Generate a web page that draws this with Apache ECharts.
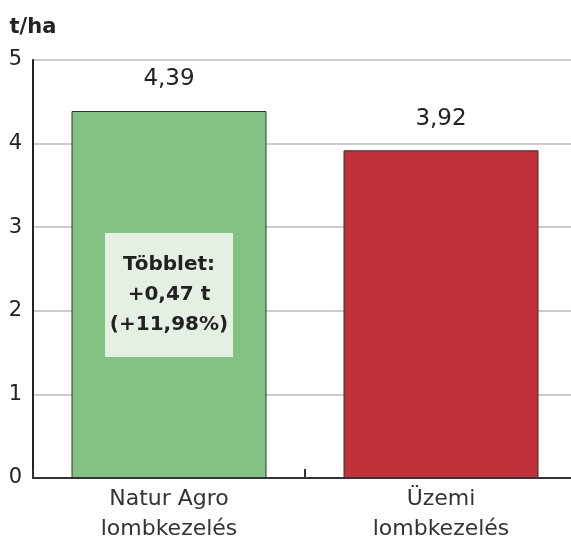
<!DOCTYPE html>
<html>
<head>
<meta charset="utf-8">
<script src="https://cdn.jsdelivr.net/npm/echarts@6/dist/echarts.min.js"></script>
<style>
  html, body { margin: 0; padding: 0; background: #fff; overflow: hidden; }
  /* slightly wider than the window so the axis runs off the right edge */
  #chart { width: 577px; height: 545px; }
</style>
</head>
<body>
<div id="chart"></div>
<script>
// adatok
var categories = ['Natur Agro\nlombkezelés', 'Üzemi\nlombkezelés'];
var values = [4.39, 3.92];
var barColors = ['#82c282', '#c0313a'];
var yTicks = { min: 0, max: 5, interval: 1 };
var unitLabel = 't/ha';
var noteText = 'Többlet:\n+0,47 t\n(+11,98%)';

var fontName = 'DejaVu Sans';

var myChart = echarts.init(document.getElementById('chart'));

var option = {
    animation: false,
    grid: {
        left: 33,
        right: 0,
        top: 60,
        bottom: 67,
        containLabel: false
    },
    xAxis: {
        type: 'category',
        data: categories,
        axisLine: { lineStyle: { color: '#333', width: 2 } },
        axisTick: {
            show: true,
            inside: true,
            length: 9,
            lineStyle: { color: '#333', width: 2 }
        },
        axisLabel: {
            fontFamily: fontName,
            fontSize: 22,
            color: '#333',
            lineHeight: 30,
            margin: 6
        },
        splitLine: { show: false }
    },
    yAxis: {
        type: 'value',
        min: yTicks.min,
        max: yTicks.max,
        interval: yTicks.interval,
        name: unitLabel,
        nameLocation: 'end',
        nameGap: 22,
        nameTextStyle: {
            fontFamily: fontName,
            fontSize: 21,
            fontWeight: 'bold',
            color: '#222',
            align: 'center'
        },
        axisLine: { show: true, lineStyle: { color: '#222', width: 2 } },
        axisTick: { show: false },
        axisLabel: {
            fontFamily: fontName,
            fontSize: 21,
            color: '#222',
            margin: 11
        },
        splitLine: { lineStyle: { color: '#cccccc', width: 2 } }
    },
    series: [{
        type: 'bar',
        barWidth: 195,
        data: values.map(function (v, i) {
            return {
                value: v,
                itemStyle: { color: barColors[i], borderColor: '#333', borderWidth: 1 }
            };
        }),
        label: {
            show: true,
            position: 'top',
            distance: 20,
            fontFamily: fontName,
            fontSize: 23,
            color: '#222',
            formatter: function (p) { return p.value.toFixed(2).replace('.', ','); }
        }
    }],
    graphic: [{
        type: 'rect',
        left: 105,
        top: 233,
        z: 10,
        shape: { width: 128, height: 124 },
        style: { fill: '#e4f0e4' },
        textContent: {
            type: 'text',
            z: 11,
            style: {
                text: noteText,
                fontFamily: fontName,
                fontSize: 20,
                fontWeight: 'bold',
                fill: '#222',
                align: 'center',
                lineHeight: 30
            }
        },
        textConfig: { position: 'inside' }
    }]
};

myChart.setOption(option);
</script>
</body>
</html>
